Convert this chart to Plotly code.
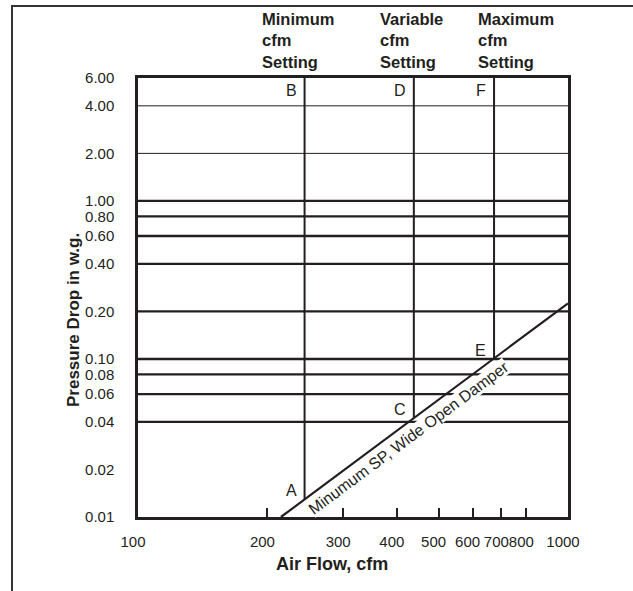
import math
import plotly.graph_objects as go

# ---------------- data ----------------
x_tick_vals = [100, 200, 300, 400, 500, 600, 700, 800, 1000]
x_tick_text = ["100", "200", "300", "400", "500", "600", "700", "800", "1000"]
y_tick_vals = [0.01, 0.02, 0.04, 0.06, 0.08, 0.10, 0.20, 0.40, 0.60, 0.80, 1.00, 2.00, 4.00, 6.00]
y_tick_text = ["0.01", "0.02", "0.04", "0.06", "0.08", "0.10", "0.20", "0.40",
               "0.60", "0.80", "1.00", "2.00", "4.00", "6.00"]
major_pressure_lines = [0.04, 0.06, 0.08, 0.10, 0.20, 0.40, 0.60, 0.80, 1.00]
minor_pressure_lines = [2.00, 4.00]

setting_titles = ["Minimum", "Variable", "Maximum"]
setting_cfm = [244, 438, 673]
setting_min_dp = [0.013, 0.0425, 0.101]
setting_low_letters = ["A", "C", "E"]
setting_high_letters = ["B", "D", "F"]

damper_cfm = [215, 1000]
damper_dp = [0.01, 0.225]
damper_label = "Minumum SP, Wide Open Damper"

x_title = "Air Flow, cfm"
y_title = "Pressure Drop in w.g."

# ---------------- layout constants ----------------
W, H = 633, 591
L, R, T, B = 138, 65, 78, 74
PW, PH = W - L - R, H - T - B
X_RANGE = [2, 3]
Y_TOP = 6.0
Y_RANGE = [-2, math.log10(Y_TOP)]
INK = "#231f20"
FONT = "Liberation Sans, Arial, Helvetica, sans-serif"


def px_to_paper_x(px):
    return (px - L) / PW


def px_to_paper_y(py):
    return (T + PH - py) / PH


fig = go.Figure()

for v in major_pressure_lines:
    fig.add_trace(go.Scatter(x=[x_tick_vals[0], x_tick_vals[-1]], y=[v, v], mode="lines",
                             line=dict(color=INK, width=2.3), hoverinfo="skip", showlegend=False))
for v in minor_pressure_lines:
    fig.add_trace(go.Scatter(x=[x_tick_vals[0], x_tick_vals[-1]], y=[v, v], mode="lines",
                             line=dict(color=INK, width=1), hoverinfo="skip", showlegend=False))

for cfm, dp in zip(setting_cfm, setting_min_dp):
    fig.add_trace(go.Scatter(x=[cfm, cfm], y=[dp, Y_TOP], mode="lines",
                             line=dict(color=INK, width=2), hoverinfo="skip", showlegend=False))

fig.add_trace(go.Scatter(x=damper_cfm, y=damper_dp, mode="lines",
                         line=dict(color=INK, width=2.2), hoverinfo="skip", showlegend=False))

annotations = []

# point letters
for cfm, dp, low, high in zip(setting_cfm, setting_min_dp, setting_low_letters, setting_high_letters):
    annotations.append(dict(x=math.log10(cfm), y=math.log10(dp), xref="x", yref="y",
                            text=low, showarrow=False, xanchor="right", yanchor="middle",
                            xshift=-6, yshift=8, font=dict(size=16, color=INK, family=FONT)))
    annotations.append(dict(x=math.log10(cfm), y=math.log10(Y_TOP), xref="x", yref="y",
                            text=high, showarrow=False, xanchor="right", yanchor="middle",
                            xshift=-6, yshift=-12, font=dict(size=16, color=INK, family=FONT)))

# column headers (one multi-line text per column)
header_left_px = [260, 378, 476]
header_mid_py = 41
for name, hx in zip(setting_titles, header_left_px):
    annotations.append(dict(x=px_to_paper_x(hx), y=px_to_paper_y(header_mid_py), xref="paper", yref="paper",
                            text="<b>%s<br>cfm<br>Setting</b>" % name, showarrow=False, xanchor="left",
                            yanchor="middle", align="left",
                            font=dict(size=16.5, color=INK, family=FONT)))

# diagonal label
lx0, lx1 = math.log10(damper_cfm[0]), math.log10(damper_cfm[1])
ly0, ly1 = math.log10(damper_dp[0]), math.log10(damper_dp[1])
dx_px = (lx1 - lx0) / (X_RANGE[1] - X_RANGE[0]) * PW
dy_px = (ly1 - ly0) / (Y_RANGE[1] - Y_RANGE[0]) * PH
ang = math.degrees(math.atan2(dy_px, dx_px))
label_cfm = 410
lxl = math.log10(label_cfm)
lyl = ly0 + (lxl - lx0) / (lx1 - lx0) * (ly1 - ly0)
off = 12.5
annotations.append(dict(x=lxl, y=lyl, xref="x", yref="y", text=damper_label, showarrow=False,
                        textangle=-ang, xanchor="center", yanchor="middle",
                        xshift=off * math.sin(math.radians(ang)),
                        yshift=-off * math.cos(math.radians(ang)),
                        bgcolor="white", borderpad=0, borderwidth=0,
                        font=dict(size=16, color=INK, family=FONT)))

# axis titles
annotations.append(dict(x=px_to_paper_x(332), y=px_to_paper_y(564), xref="paper", yref="paper",
                        text="<b>%s</b>" % x_title, showarrow=False, xanchor="center", yanchor="middle",
                        font=dict(size=18, color=INK, family=FONT)))
annotations.append(dict(x=px_to_paper_x(73), y=px_to_paper_y(320), xref="paper", yref="paper",
                        text="<b>%s</b>" % y_title, showarrow=False, textangle=-90,
                        xanchor="center", yanchor="middle",
                        font=dict(size=17, color=INK, family=FONT)))

# outer frame (top and left edges) as a path in paper coordinates
fx0 = px_to_paper_x(12)
fy_top = px_to_paper_y(6)
fy_bot = px_to_paper_y(H + 4)
fx1 = px_to_paper_x(W + 4)
shapes = [
    dict(type="path", xref="paper", yref="paper",
         path="M %f,%f L %f,%f L %f,%f" % (fx0, fy_bot, fx0, fy_top, fx1, fy_top),
         line=dict(color="#333333", width=2), layer="above"),
]

fig.update_layout(
    width=W, height=H,
    margin=dict(l=L, r=R, t=T, b=B, pad=0),
    paper_bgcolor="white", plot_bgcolor="white",
    showlegend=False,
    annotations=annotations,
    shapes=shapes,
    font=dict(family=FONT, color=INK),
    xaxis=dict(type="log", range=X_RANGE, tickmode="array", tickvals=x_tick_vals, ticktext=x_tick_text,
               ticks="inside", ticklen=9, tickwidth=2, tickcolor=INK, tickangle=0,
               showgrid=False, zeroline=False, showline=True, linecolor=INK, linewidth=2.5,
               mirror=True, ticklabelstandoff=9, ticklabelshift=-5,
               tickfont=dict(size=15, color=INK, family=FONT)),
    yaxis=dict(type="log", range=Y_RANGE, tickmode="array", tickvals=y_tick_vals, ticktext=y_tick_text,
               ticks="", showgrid=False, zeroline=False, showline=True, linecolor=INK, linewidth=2.5,
               mirror=True, ticklabelstandoff=18,
               tickfont=dict(size=15, color=INK, family=FONT)),
)

fig.write_html("out.html", config={"displayModeBar": False},
               post_script="document.body.style.margin='0';document.body.style.overflow='hidden';")
